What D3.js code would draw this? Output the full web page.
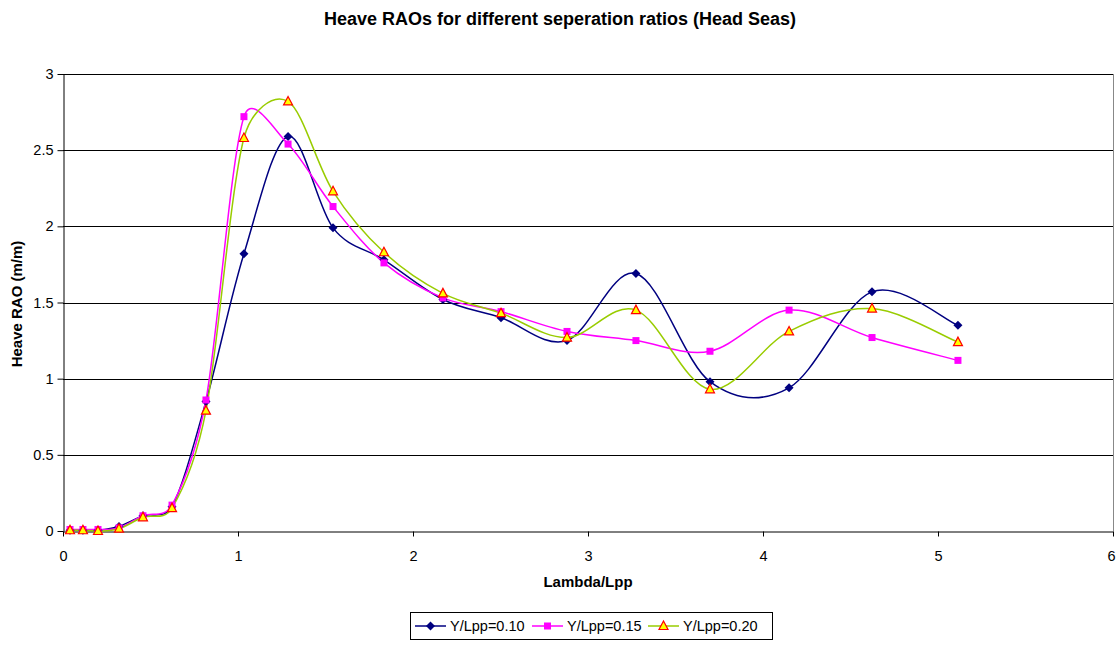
<!DOCTYPE html>
<html><head><meta charset="utf-8">
<script src="https://cdn.jsdelivr.net/npm/d3@7"></script>
<style>
body{margin:0;background:#fff;}
text{font-family:"Liberation Sans",Arial,sans-serif;}
</style></head>
<body>
<svg id="chart" width="1116" height="649"></svg>
<script>
const lambdaLpp = [0.04,0.114,0.2,0.32,0.457,0.623,0.817,1.034,1.286,1.543,1.834,2.171,2.503,2.88,3.274,3.697,4.149,4.623,5.114];
const s010 = [0.005,0.005,0.005,0.03,0.1,0.16,0.85,1.82,2.59,1.99,1.78,1.52,1.40,1.25,1.69,0.98,0.94,1.57,1.35];
const s015 = [0.01,0.01,0.01,0.02,0.1,0.17,0.86,2.72,2.54,2.13,1.76,1.53,1.44,1.31,1.25,1.18,1.45,1.27,1.12];
const s020 = [0.005,0.005,0.0,0.015,0.09,0.15,0.79,2.58,2.82,2.23,1.83,1.56,1.43,1.27,1.45,0.93,1.31,1.46,1.24];
const seriesNames = ["Y/Lpp=0.10","Y/Lpp=0.15","Y/Lpp=0.20"];
const xTicks = [0,1,2,3,4,5,6];
const yTicks = [0,0.5,1,1.5,2,2.5,3];

const svg = d3.select("#chart");
const L=63,R=1113,T=74,B=531;
const x = d3.scaleLinear().domain([0,6]).range([L,R]);
const y = d3.scaleLinear().domain([0,3]).range([B,T]);
const FONT = "'Liberation Sans',Arial,sans-serif";

// title
svg.append("text").attr("x",560).attr("y",25).attr("text-anchor","middle")
  .attr("font-size",18).attr("font-weight","bold").text("Heave RAOs for different seperation ratios (Head Seas)");

// gridlines
svg.append("g").selectAll("line").data(yTicks.filter(d=>d>0)).join("line")
  .attr("x1",L).attr("x2",R).attr("y1",d=>Math.round(y(d))+0.5).attr("y2",d=>Math.round(y(d))+0.5)
  .attr("stroke","#000").attr("stroke-width",1);
// right border
svg.append("line").attr("x1",R+0.5).attr("x2",R+0.5).attr("y1",T).attr("y2",B).attr("stroke","#888");

// axes
const yAxis = svg.append("g").attr("transform",`translate(${L+0.5},0)`)
  .call(d3.axisLeft(y).tickValues(yTicks).tickSize(6).tickSizeOuter(0).tickFormat(d=>d));
const xAxis = svg.append("g").attr("transform",`translate(0,${Math.round(B)+0.5})`)
  .call(d3.axisBottom(x).tickValues(xTicks).tickSize(5).tickSizeOuter(0).tickFormat(d=>d));
[yAxis,xAxis].forEach(a=>{
  a.select(".domain").attr("stroke","#000");
  a.selectAll(".tick line").attr("stroke","#000");
  a.selectAll("text").attr("font-size",14.5).attr("fill","#000").attr("font-family",FONT);
});
yAxis.selectAll("text").attr("dx",-1);
xAxis.selectAll("text").attr("dy","1.45em");
xAxis.selectAll(".tick text").filter(d=>d===6).attr("dx",-2);

// axis titles
svg.append("text").attr("x",588).attr("y",587).attr("text-anchor","middle")
  .attr("font-size",15).attr("font-weight","bold").text("Lambda/Lpp");
svg.append("text").attr("transform","translate(22,304) rotate(-90)").attr("text-anchor","middle")
  .attr("font-size",15).attr("font-weight","bold").text("Heave RAO (m/m)");

const styles = [
  {color:"#000080", marker:"diamond"},
  {color:"#FF00FF", marker:"square"},
  {color:"#99CC00", marker:"triangle"}
];
const allSeries = [s010,s015,s020];

// Excel-like smoothing: tangent along P(i-1)->P(i+1), length |P(i+1)-P(i-1)|/6, capped at half the adjacent segment
function smoothPath(vals){
  const P = vals.map((v,i)=>[x(lambdaLpp[i]), y(v)]);
  const n = P.length;
  const dist = (a,b)=>Math.hypot(b[0]-a[0], b[1]-a[1]);
  const tan = P.map((p,i)=>{
    const a = P[Math.max(0,i-1)], b = P[Math.min(n-1,i+1)];
    const dx=b[0]-a[0], dy=b[1]-a[1], m=Math.hypot(dx,dy)||1;
    return {u:[dx/m, dy/m], base:m/6};
  });
  const p = d3.path();
  p.moveTo(P[0][0],P[0][1]);
  for(let i=0;i<n-1;i++){
    const a=P[i], b=P[i+1], d=dist(a,b);
    const m1 = Math.min(tan[i].base, d/2), m2 = Math.min(tan[i+1].base, d/2);
    p.bezierCurveTo(a[0]+tan[i].u[0]*m1, a[1]+tan[i].u[1]*m1,
                    b[0]-tan[i+1].u[0]*m2, b[1]-tan[i+1].u[1]*m2, b[0], b[1]);
  }
  return p.toString();
}

function drawMarker(g, type, cx, cy){
  if(type==="diamond"){
    g.append("path").attr("d",`M${cx},${cy-4.5}L${cx+4.5},${cy}L${cx},${cy+4.5}L${cx-4.5},${cy}Z`).attr("fill","#000080");
  } else if(type==="square"){
    g.append("rect").attr("x",cx-3.5).attr("y",cy-3.5).attr("width",7).attr("height",7).attr("fill","#FF00FF");
  } else {
    g.append("path").attr("d",`M${cx},${cy-5}L${cx+4.5},${cy+3.5}L${cx-4.5},${cy+3.5}Z`)
      .attr("fill","#FFFF00").attr("stroke","#FF0000").attr("stroke-width",1.2);
  }
}

allSeries.forEach((s,k)=>{
  svg.append("path").attr("d",smoothPath(s)).attr("fill","none")
    .attr("stroke",styles[k].color).attr("stroke-width",1.5);
});
allSeries.forEach((s,k)=>{
  const g = svg.append("g");
  s.forEach((v,i)=>drawMarker(g, styles[k].marker, x(lambdaLpp[i]), y(v)));
});

// legend
const lg = svg.append("g");
lg.append("rect").attr("x",410.5).attr("y",612.5).attr("width",362).attr("height",27)
  .attr("fill","#fff").attr("stroke","#000");
const legX = [415,532,648];
seriesNames.forEach((n,k)=>{
  const lx = legX[k], ly = 626;
  lg.append("line").attr("x1",lx).attr("x2",lx+31).attr("y1",ly).attr("y2",ly)
    .attr("stroke",styles[k].color).attr("stroke-width",1.5);
  drawMarker(lg, styles[k].marker, lx+15.5, ly);
  lg.append("text").attr("x",lx+35).attr("y",ly+5).attr("font-size",14.5).text(n);
});
</script>
</body></html>
